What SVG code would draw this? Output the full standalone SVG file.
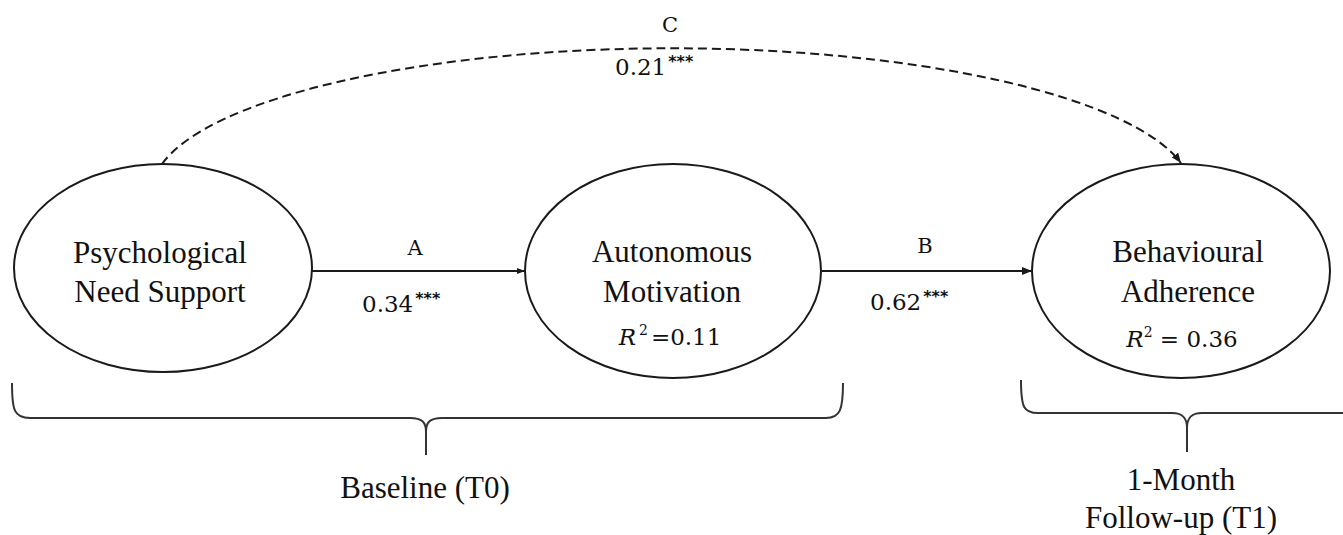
<svg xmlns="http://www.w3.org/2000/svg" width="1343" height="535" viewBox="0 0 1343 535">
<style>
.node{fill:#fff;stroke:#1a1a1a;stroke-width:2}
.lbl{font-family:"Liberation Serif","Times New Roman",serif;font-size:31px;fill:#111;text-anchor:middle}
.num{font-family:"DejaVu Serif",serif;font-size:23px;fill:#111}
.path{font-family:"DejaVu Serif",serif;font-size:21px;fill:#111;text-anchor:middle}
.sup{font-family:"DejaVu Sans",sans-serif;font-size:16px;font-weight:bold;fill:#111}
.conn{fill:none;stroke:#1a1a1a;stroke-width:2}
.brace{fill:none;stroke:#333;stroke-width:2}
</style>
<defs>
<marker id="ah" markerUnits="userSpaceOnUse" markerWidth="10" markerHeight="8" refX="10" refY="4" orient="auto">
<path d="M0,0 L10,4 L0,8 z" fill="#1a1a1a"/>
</marker>
<marker id="ahs" markerUnits="userSpaceOnUse" markerWidth="8" markerHeight="6" refX="8" refY="3" orient="auto">
<path d="M0,0 L8,3 L0,6 z" fill="#1a1a1a"/>
</marker>
</defs>
<rect width="1343" height="535" fill="#fff"/>
<g id="connectors">
<path class="conn" stroke-dasharray="9 5" d="M162,164 A520 144 0 0 1 1181,163" marker-end="url(#ah)"/>
<line class="conn" x1="312" y1="271" x2="525" y2="271" marker-end="url(#ahs)"/>
<line class="conn" x1="822" y1="271" x2="1032" y2="271" marker-end="url(#ah)"/>
<text class="path" x="670" y="32">C</text>
<text class="num" x="615" y="75">0.21<tspan class="sup" dx="2" dy="-8">***</tspan></text>
<text class="path" x="415" y="255">A</text>
<text class="num" x="362" y="312">0.34<tspan class="sup" dx="2" dy="-8">***</tspan></text>
<text class="path" x="925" y="253">B</text>
<text class="num" x="870" y="310">0.62<tspan class="sup" dx="2" dy="-8">***</tspan></text>
</g>
<g id="node-psych">
<ellipse class="node" cx="163" cy="268" rx="149" ry="104"/>
<text class="lbl" x="160" y="263">Psychological</text>
<text class="lbl" x="160" y="302">Need Support</text>
</g>
<g id="node-auto">
<ellipse class="node" cx="673" cy="271" rx="148" ry="107"/>
<text class="lbl" x="672" y="262">Autonomous</text>
<text class="lbl" x="672" y="302">Motivation</text>
<text class="num" x="670" y="345" text-anchor="middle"><tspan font-style="italic">R</tspan><tspan font-size="14" dy="-10" dx="3">2</tspan><tspan dy="10" dx="3">=0.11</tspan></text>
</g>
<g id="node-behav">
<ellipse class="node" cx="1181" cy="271" rx="149" ry="107"/>
<text class="lbl" x="1188" y="262">Behavioural</text>
<text class="lbl" x="1188" y="302">Adherence</text>
<text class="num" x="1182" y="347" text-anchor="middle"><tspan font-style="italic">R</tspan><tspan font-size="14" dy="-10">2</tspan><tspan dy="10"> = 0.36</tspan></text>
</g>
<g id="brace-baseline">
<path class="brace" d="M12,383 C12,410 14,418 30,418 L410,418 C422,418 426,422 426,432 L426,455 M426,432 C426,422 430,418 442,418 L826,418 C840,418 843,410 843,383"/>
<text class="lbl" x="425" y="498">Baseline (T0)</text>
</g>
<g id="brace-followup">
<path class="brace" d="M1021,380 C1021,408 1024,413 1038,413 L1172,413 C1183,413 1187,418 1187,428 L1187,452 M1187,428 C1187,418 1191,413 1202,413 L1343,413"/>
<text class="lbl" x="1181" y="490">1-Month</text>
<text class="lbl" x="1181" y="528">Follow-up (T1)</text>
</g>
</svg>
